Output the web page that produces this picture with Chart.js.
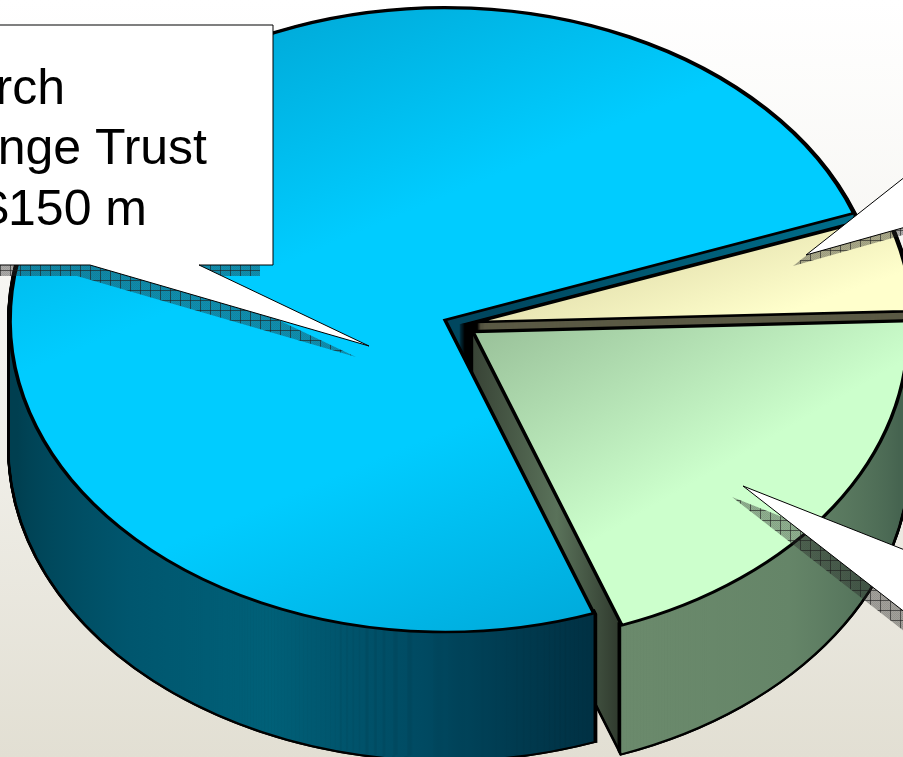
<!DOCTYPE html>
<html>
<head>
<meta charset="utf-8">
<title>Fund shares</title>
<script src="https://cdn.jsdelivr.net/npm/chart.js@4"></script>
<style>
    html, body { margin: 0; padding: 0; overflow: hidden; }
    body {
        width: 903px;
        height: 757px;
        background: linear-gradient(#ffffff 0%, #f3f2ed 50%, #e2dfd3 100%);
    }
    canvas { display: block; }
</style>
</head>
<body>
<canvas id="fundsChart" width="903" height="757"></canvas>
<script>
// ==========================
// DATA ($ millions)
// ==========================

const fundNames = ["Research Challenge Trust", "Second fund", "Third fund"];
const fundValues = [150, 10, 40];
const calloutLines = ["Research", "Challenge Trust", "$150 m"];

// ==========================
// 3D LOOK OF THE PIE
// ==========================

const PIE_X = 445, PIE_Y = 320;     // centre of the top face
const PIE_RX = 435, PIE_RY = 312;
const DEPTH = 128;
const LINE = 3.2;
const WALL_LINE = 5;

// pulled-out slices, in pixels on screen
const pullOut = [[0, 0], [32, 2], [28, 12]];

function toPie(arc, x, y) {
    return [
        arc.x + (x - PIE_X) * arc.outerRadius / PIE_RX,
        arc.y + (y - PIE_Y) * arc.outerRadius / PIE_RY
    ];
}

function gradient(ctx, arc, x0, y0, x1, y1, stops) {
    const a = toPie(arc, x0, y0);
    const b = toPie(arc, x1, y1);
    const g = ctx.createLinearGradient(a[0], a[1], b[0], b[1]);
    stops.forEach(s => g.addColorStop(s[0], s[1]));
    return g;
}

// copy of a slice with its own paint and, if wanted, its own angles or radii
function variant(arc, fill, width, props) {
    const el = Object.create(arc);
    Object.assign(el, props || {});
    el.options = {
        backgroundColor: fill,
        borderColor: "#000000",
        borderWidth: width,
        borderAlign: "center",
        borderJoinStyle: "miter",
        borderRadius: 0,
        spacing: 0,
        offset: 0,
        circular: true
    };
    return el;
}

function drawAt(ctx, arc, el, shift, down) {
    ctx.save();
    ctx.translate(PIE_X + shift[0], PIE_Y + shift[1] + down);
    ctx.scale(PIE_RX / arc.outerRadius, PIE_RY / arc.outerRadius);
    ctx.translate(-arc.x, -arc.y);
    el.draw(ctx);
    ctx.restore();
}

// the slice pushed down step by step: first in black for the outline, then in its colour
function sweep(ctx, arc, fill, shift, props) {
    const outline = variant(arc, "#000000", WALL_LINE, props);
    const body = variant(arc, fill, 0, props);
    for (let d = DEPTH; d >= 0; d--) drawAt(ctx, arc, outline, shift, d);
    for (let d = DEPTH; d >= 0; d--) drawAt(ctx, arc, body, shift, d);
}

function rim(arc, start, end) {
    return {
        startAngle: start,
        endAngle: end,
        circumference: end - start,
        innerRadius: arc.outerRadius - 2
    };
}

const pie3d = {
    id: "pie3d",
    beforeDatasetsDraw(chart) {
        const ctx = chart.ctx;
        const [blue, yellow, green] = chart.getDatasetMeta(0).data;

        // back of the blue slice
        sweep(ctx, blue, gradient(ctx, blue, 445, 190, 850, 90, [
            [0, "#00475f"], [1, "#007492"]
        ]), pullOut[0]);

        // the two pulled-out slices
        sweep(ctx, yellow, "#5b5a45", pullOut[1]);
        sweep(ctx, green, gradient(ctx, green, 473, 280, 640, 600, [
            [0, "#333c30"], [0.6, "#5a725a"], [1, "#2e382c"]
        ]), pullOut[2]);
        sweep(ctx, green, gradient(ctx, green, 640, 640, 903, 400, [
            [0, "#6b8a6c"], [0.45, "#658568"], [1, "#466450"]
        ]), pullOut[2], rim(green, green.startAngle, green.endAngle));

        drawAt(ctx, yellow, variant(yellow, gradient(ctx, yellow, 560, 230, 640, 350, [
            [0, "#dcd8a6"], [1, "#ffffcc"]
        ]), LINE), pullOut[1], 0);
        drawAt(ctx, green, variant(green, gradient(ctx, green, 470, 320, 650, 480, [
            [0, "#9cc49c"], [1, "#ccffcc"]
        ]), LINE), pullOut[2], 0);

        // front wall and top of the blue slice go over the rest
        sweep(ctx, blue, gradient(ctx, blue, 120, 300, 600, 640, [
            [0, "#003f50"], [0.35, "#00566e"], [0.6, "#006078"], [0.8, "#004a62"], [1, "#00293a"]
        ]), pullOut[0], rim(blue, blue.startAngle, Math.PI));

        drawAt(ctx, blue, variant(blue, gradient(ctx, blue, 170, 40, 640, 620, [
            [0, "#00a8d6"], [0.35, "#00ccff"], [0.65, "#00ccff"], [1, "#00a8d8"]
        ]), LINE), pullOut[0], 0);

        return false;
    },
    afterDraw(chart) {
        drawCallouts(chart.ctx);
    }
};

// ==========================
// CALLOUTS
// ==========================

const calloutShapes = [
    { shadow: [-13, 11], points: [[-20, 25], [273, 25], [273, 265], [199, 265], [369, 346], [90, 265], [-20, 265]] },
    { shadow: [-13, 11], points: [[806, 255], [920, 165], [920, 223]] },
    { shadow: [-11, 11], points: [[743, 486], [920, 556], [920, 624]] }
];

function shadowPattern(ctx) {
    const tile = document.createElement("canvas");
    tile.width = tile.height = 10;
    const t = tile.getContext("2d");
    for (let y = 0; y < 10; y++) {
        for (let x = 0; x < 10; x++) {
            t.fillStyle = (x + y) % 2 ? "rgba(40,40,40,0.36)" : "rgba(40,40,40,0.44)";
            t.fillRect(x, y, 1, 1);
        }
    }
    t.fillStyle = "rgba(30,30,30,0.62)";
    t.fillRect(0, 0, 10, 1);
    t.fillRect(0, 0, 1, 10);
    return ctx.createPattern(tile, "repeat");
}

function tracePoints(ctx, points, dx, dy) {
    ctx.beginPath();
    points.forEach((p, i) => {
        if (i === 0) ctx.moveTo(p[0] + dx, p[1] + dy);
        else ctx.lineTo(p[0] + dx, p[1] + dy);
    });
    ctx.closePath();
}

function drawCallouts(ctx) {
    const hatch = shadowPattern(ctx);

    calloutShapes.forEach(shape => {
        ctx.fillStyle = hatch;
        tracePoints(ctx, shape.points, shape.shadow[0], shape.shadow[1]);
        ctx.fill();

        ctx.fillStyle = "#ffffff";
        ctx.strokeStyle = "#000000";
        ctx.lineWidth = 1;
        ctx.lineJoin = "miter";
        tracePoints(ctx, shape.points, 0, 0);
        ctx.fill();
        ctx.stroke();
    });

    ctx.fillStyle = "#000000";
    ctx.font = '50px "Liberation Sans", Arial, sans-serif';
    ctx.textAlign = "right";
    ctx.textBaseline = "alphabetic";
    ctx.fillText(calloutLines[0], 65, 104);
    ctx.fillText(calloutLines[1], 207, 164);
    ctx.fillText(calloutLines[2], 147, 225);
}

// ==========================
// CHART
// ==========================

new Chart(document.querySelector("#fundsChart").getContext("2d"), {
    type: "pie",
    data: {
        labels: fundNames,
        datasets: [{
            data: fundValues,
            backgroundColor: ["#00ccff", "#ffffcc", "#ccffcc"],
            borderWidth: 0
        }]
    },
    options: {
        responsive: false,
        animation: false,
        rotation: 160,
        plugins: {
            legend: { display: false },
            tooltip: { enabled: false }
        }
    },
    plugins: [pie3d]
});
</script>
</body>
</html>
